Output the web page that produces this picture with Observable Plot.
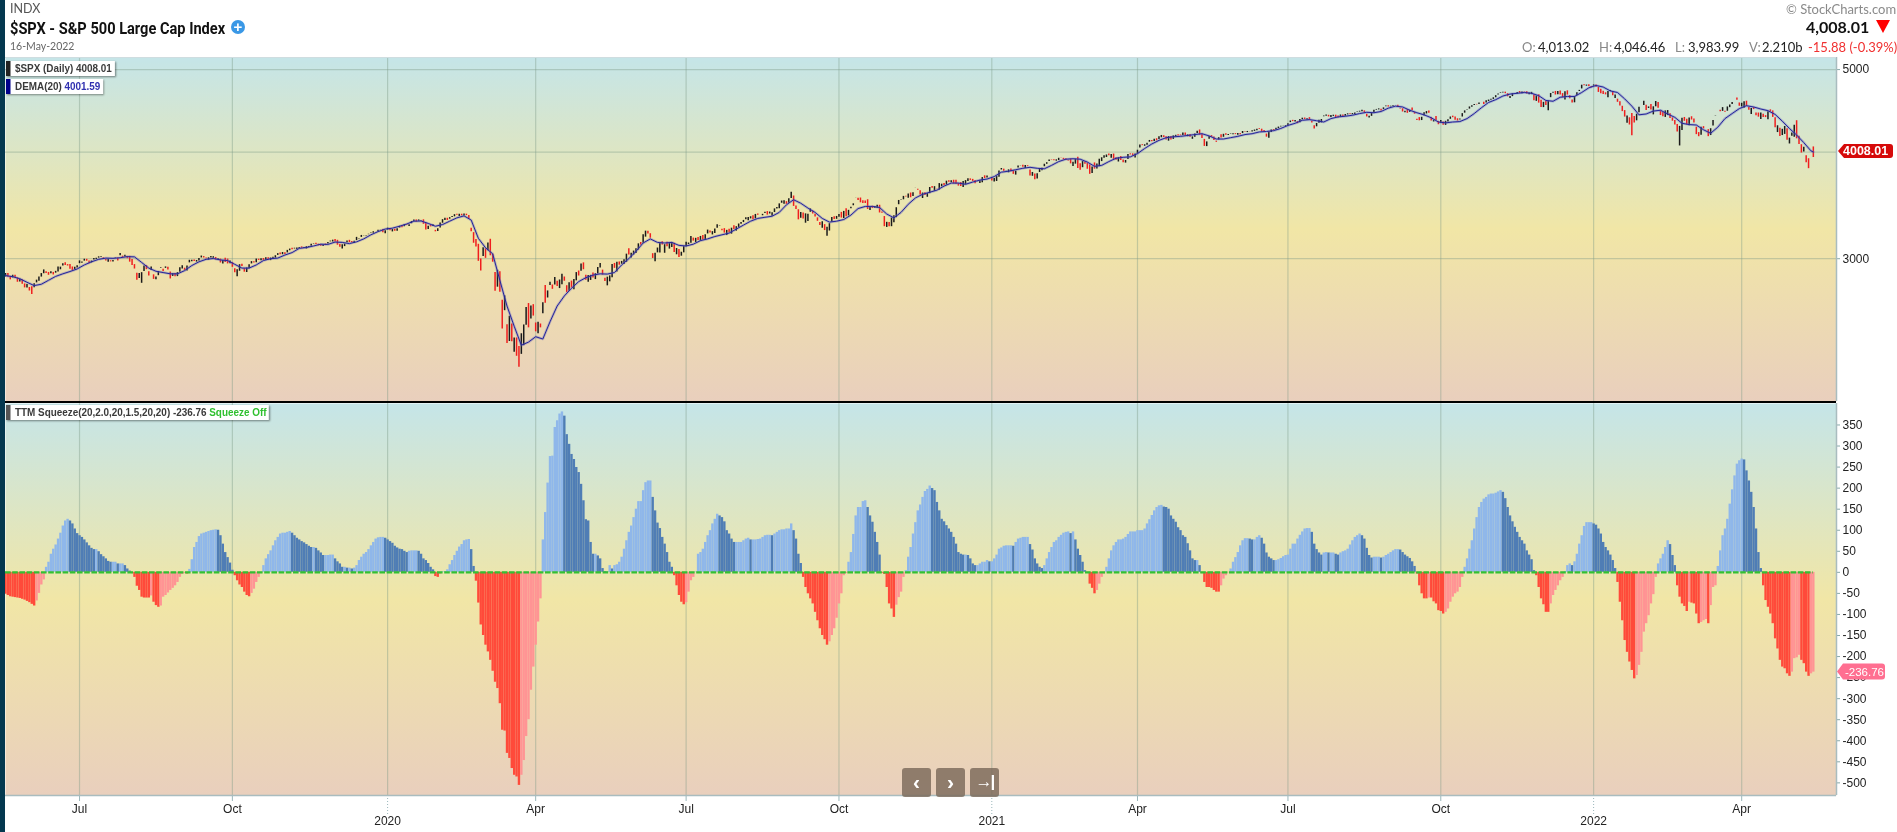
<!DOCTYPE html>
<html><head><meta charset="utf-8">
<script src="https://cdn.jsdelivr.net/npm/d3@7"></script>
<script src="https://cdn.jsdelivr.net/npm/@observablehq/plot@0.6"></script>
<style>
html,body{margin:0;padding:0;background:#fff;width:1897px;height:832px;overflow:hidden}
#page{position:relative;width:1897px;height:832px;font-family:Lato,sans-serif;filter:blur(.35px)}
#page>svg,#page>figure,.plot{position:absolute;left:0;margin:0}
.t{position:absolute;white-space:nowrap;line-height:1}
.chip{position:absolute;background:#fff;box-shadow:1px 1px 2px rgba(0,0,0,.45);font:bold 11px "Liberation Sans",sans-serif;color:#3a3a3a;white-space:nowrap;line-height:15px;height:15px;padding:0 3px 0 10px;box-sizing:content-box;transform:scaleX(.9);transform-origin:left}
.chip i{position:absolute;left:0;top:0;width:5px;height:15px}
.btn{position:absolute;top:768px;width:29px;height:29px;border-radius:3px;background:rgba(120,103,88,.8);color:#fff;font:bold 21px/27px "Liberation Sans",sans-serif;text-align:center}
</style></head><body><div id="page"></div>
<script>
// ---- S&P 500 daily closes, one row per month (May 2019 .. May 2022)
const closes=[
2876,2860,2840,2865,2856,2823,2826,2802,2783,2788,2752,
2744,2803,2826,2843,2873,2886,2885,2879,2891,2887,2889,2917,2926,2954,2950,2945,2917,2913,2924,2942,
2964,2973,2996,2990,2976,2980,2993,3000,3014,3014,3004,2984,2995,2977,2985,3006,3004,3026,3020,3026,3013,2980,
2954,2932,2845,2882,2884,2938,2919,2883,2926,2841,2848,2889,2924,2900,2924,2922,2847,2878,2869,2887,2924,2926,
2906,2938,2977,2979,2978,2979,3001,3010,3007,2998,3006,3007,3007,2992,2992,2967,2984,2977,2962,2977,
2940,2888,2910,2952,2938,2893,2919,2938,2970,2966,2996,2990,2998,2986,3007,2996,3004,3010,3023,3040,3037,3047,3038,
3067,3078,3075,3085,3085,3093,3087,3091,3094,3097,3120,3122,3120,3108,3104,3111,3110,3134,3141,3154,3141,
3114,3094,3113,3118,3146,3136,3133,3142,3169,3169,3192,3192,3192,3205,3221,3224,3224,3240,3240,3222,3231,
3258,3235,3246,3237,3253,3275,3265,3289,3283,3289,3317,3330,3321,3321,3326,3296,3244,3276,3273,3284,3226,
3248,3298,3334,3345,3328,3352,3358,3379,3374,3380,3370,3386,3373,3338,3226,3128,3116,2979,2954,
3090,3003,3130,3024,2972,2747,2882,2741,2481,2711,2386,2529,2398,2409,2305,2237,2447,2476,2630,2541,2627,2585,
2470,2527,2489,2664,2660,2750,2790,2762,2846,2783,2800,2875,2823,2737,2799,2798,2837,2878,2863,2940,2912,
2830,2842,2868,2848,2881,2930,2930,2870,2820,2853,2864,2954,2923,2972,2948,2955,2992,3036,3030,3044,
3056,3081,3123,3112,3194,3232,3207,3190,3002,3041,3067,3125,3114,3116,3098,3118,3132,3050,3084,3010,3053,3100,
3116,3130,3180,3146,3170,3152,3185,3155,3198,3227,3215,3225,3251,3258,3277,3236,3215,3239,3218,3258,3246,3271,
3295,3306,3327,3349,3351,3360,3333,3380,3373,3373,3382,3390,3375,3385,3397,3431,3444,3479,3485,3508,3500,
3527,3581,3455,3427,3332,3399,3339,3341,3383,3401,3385,3357,3319,3282,3316,3237,3246,3298,3351,3335,3363,
3381,3348,3409,3361,3419,3447,3477,3534,3512,3489,3484,3483,3427,3443,3435,3453,3465,3401,3391,3271,3310,3270,
3310,3370,3443,3510,3510,3550,3545,3572,3537,3585,3627,3610,3568,3582,3558,3578,3635,3630,3638,3622,
3662,3669,3666,3699,3692,3702,3672,3669,3663,3647,3695,3702,3722,3709,3695,3687,3691,3703,3735,3727,3732,3756,
3701,3727,3748,3803,3825,3799,3801,3810,3795,3768,3799,3852,3853,3841,3855,3849,3751,3787,3714,
3774,3826,3830,3872,3887,3915,3911,3909,3917,3935,3933,3932,3914,3906,3876,3881,3925,3829,3811,
3901,3871,3820,3768,3842,3821,3875,3899,3939,3943,3969,3963,3974,3915,3913,3941,3911,3889,3910,3975,3971,3959,3973,
4020,4078,4074,4080,4097,4129,4128,4142,4125,4171,4185,4163,4135,4173,4135,4180,4187,4186,4183,4211,4181,
4192,4165,4168,4202,4233,4189,4152,4063,4113,4174,4164,4128,4116,4160,4156,4197,4188,4196,4200,4204,
4202,4208,4192,4230,4227,4228,4220,4239,4247,4256,4255,4224,4222,4166,4224,4246,4242,4266,4281,4291,4291,4297,
4320,4352,4344,4358,4320,4370,4385,4369,4374,4360,4327,4258,4323,4359,4368,4412,4422,4401,4401,4419,4395,
4387,4423,4403,4429,4437,4433,4436,4443,4460,4468,4480,4449,4400,4406,4442,4480,4486,4497,4470,4509,4529,4523,
4524,4537,4535,4520,4494,4459,4469,4443,4480,4474,4433,4358,4354,4396,4449,4455,4443,4353,4360,4359,4308,
4357,4301,4346,4364,4399,4391,4361,4351,4364,4438,4471,4486,4520,4536,4550,4545,4567,4575,4552,4597,4605,
4614,4631,4660,4680,4697,4702,4685,4646,4649,4683,4682,4701,4689,4705,4698,4682,4691,4702,4595,4656,4567,
4513,4577,4538,4592,4687,4701,4668,4712,4669,4634,4710,4669,4621,4568,4649,4697,4726,4791,4786,4793,4778,4766,
4797,4793,4701,4696,4677,4670,4713,4726,4659,4663,4577,4533,4483,4398,4410,4357,4350,4327,4432,4516,
4546,4589,4477,4501,4484,4522,4587,4504,4419,4401,4472,4475,4380,4349,4305,4225,4289,4385,4374,
4306,4387,4363,4329,4201,4171,4278,4260,4204,4173,4262,4358,4412,4463,4462,4512,4456,4520,4544,4576,4632,4602,4530,
4546,4583,4526,4481,4500,4488,4413,4397,4447,4393,4392,4463,4459,4394,4272,4296,4175,4184,4288,4132,
4155,4175,4301,4147,4124,3991,4001,3935,3930,4024,4008];
// ---- how far each bar's high stands above its close
const highOver=[
5,17,15,3,10,20,9,25,15,8,18,
28,0,4,9,7,19,8,9,4,3,8,13,5,4,14,6,28,16,6,1,
14,0,0,4,4,1,6,3,1,3,3,9,1,5,1,2,0,12,1,1,4,30,
30,16,30,1,4,3,20,10,6,24,5,7,3,12,8,7,36,2,10,2,3,14,
14,2,8,6,9,5,1,9,8,6,1,8,7,14,6,23,1,20,27,4,
23,24,1,0,14,21,5,10,5,7,1,5,2,12,1,9,1,2,1,1,7,3,8,
1,1,8,1,2,0,8,1,4,3,0,1,6,9,10,0,9,1,4,0,14,
30,18,1,2,0,13,8,2,7,0,2,1,2,0,0,2,0,0,0,19,3,
0,15,1,9,0,0,10,0,5,0,0,0,8,8,1,28,46,0,8,3,10,
3,4,0,1,14,0,3,0,7,2,10,0,8,25,24,70,34,108,34,
0,60,0,106,50,110,20,120,155,2,95,30,90,10,90,100,2,25,0,90,10,50,
40,0,20,0,100,0,20,25,4,30,25,1,25,40,10,20,0,9,30,14,42,
30,20,0,30,0,0,24,30,20,1,0,0,30,0,20,18,0,1,40,0,
5,0,0,17,5,0,18,15,30,3,16,3,20,0,30,8,1,60,0,50,0,0,
15,0,5,20,0,20,1,30,2,11,14,2,0,23,3,10,30,0,24,0,25,0,
0,1,0,1,1,0,28,1,10,1,0,9,25,14,0,1,0,0,16,0,0,
0,6,76,25,71,0,43,35,0,24,21,20,24,20,0,40,16,0,2,19,0,
0,40,0,55,0,0,2,1,15,35,18,17,70,3,17,1,0,50,9,70,0,30,
30,0,0,1,5,0,5,0,35,0,1,7,29,0,20,0,1,12,5,1,
10,0,8,0,8,0,28,30,10,30,1,2,1,10,17,15,1,1,0,20,15,0,
25,0,1,0,2,17,3,3,22,27,1,1,2,16,3,6,47,0,45,
0,1,0,0,1,1,4,8,1,0,1,2,13,7,39,9,0,90,50,
0,19,50,75,1,50,0,20,1,14,1,14,0,50,21,0,32,22,1,0,9,18,5,
1,0,6,1,0,0,1,0,18,0,0,14,28,0,30,0,0,6,6,1,25,
0,24,1,0,1,45,35,60,0,0,15,30,4,0,28,1,12,1,4,1,
3,0,11,0,3,2,2,0,0,0,6,25,15,27,0,0,8,0,0,0,2,0,
0,0,12,0,20,0,0,14,3,24,16,30,0,1,1,0,0,14,13,1,20,
19,0,15,0,0,6,3,2,0,0,0,18,24,1,0,0,3,0,18,0,1,8,
4,0,1,16,8,30,0,35,0,26,17,12,29,0,0,7,22,30,0,36,30,
0,30,2,1,0,14,30,21,8,1,1,1,0,0,0,5,1,0,19,0,0,
0,2,0,0,1,0,15,30,0,1,2,0,18,0,6,20,1,0,60,0,80,
70,0,40,0,0,2,35,1,38,40,0,40,30,30,0,0,1,2,10,2,16,8,
0,3,50,35,30,20,0,0,40,5,30,40,35,60,1,25,70,60,0,0,
0,0,50,15,50,0,0,55,40,40,0,1,45,30,40,65,0,0,15,
50,0,30,35,60,36,0,20,0,60,0,0,2,0,15,0,10,0,0,0,0,22,30,
15,0,50,24,0,20,25,38,0,30,18,0,20,60,90,0,70,55,0,100,
0,30,0,160,40,70,40,20,0,0,38];
// ---- how far each bar's low stands below its close
const lowUnder=[
16,5,5,13,7,6,7,2,8,12,2,
16,22,12,15,14,4,2,8,8,12,3,17,11,10,4,3,1,6,10,13,
3,8,12,8,12,11,3,5,7,2,7,2,18,2,9,1,17,1,9,9,10,6,
7,11,11,30,59,31,5,15,16,3,11,18,1,1,1,9,5,14,9,22,25,6,
0,27,8,2,0,5,15,3,1,1,13,1,3,1,1,1,21,6,3,14,
7,0,41,40,1,0,22,14,9,1,22,3,11,1,15,3,15,12,14,10,3,11,3,
15,10,1,4,8,7,1,5,11,3,14,2,2,1,1,8,1,10,1,12,2,
2,0,25,14,11,2,0,13,14,3,11,1,1,3,4,8,0,11,1,3,17,
13,0,16,4,17,12,2,14,0,13,15,9,6,1,3,3,2,22,3,8,0,
15,30,25,14,1,11,3,15,1,14,1,15,2,0,0,0,15,0,40,
55,0,50,0,0,0,80,0,0,80,0,100,0,60,0,0,100,80,95,40,60,12,
6,60,0,60,0,40,0,0,40,0,25,60,0,0,40,20,60,40,0,30,0,
0,20,30,0,35,40,4,0,0,50,35,80,0,60,0,0,30,50,0,30,
20,30,40,0,50,40,0,15,0,50,15,60,0,55,0,30,30,0,40,0,25,40,
14,10,40,0,28,0,30,0,30,15,0,20,30,0,0,0,0,35,0,40,0,30,
25,10,15,12,20,15,0,30,0,0,10,0,0,0,25,25,10,35,0,25,20,
33,40,0,0,0,40,0,30,50,0,0,0,0,0,45,0,45,50,30,0,20,
20,0,50,0,40,10,12,0,0,0,1,0,0,20,0,11,20,5,0,0,35,0,
30,50,70,30,0,25,0,30,0,28,0,0,3,40,0,28,45,0,30,0,
40,20,10,30,2,14,0,0,10,0,45,30,20,2,0,10,0,20,40,1,0,0,
0,28,40,50,10,0,0,20,0,0,30,15,0,0,20,1,0,30,0,
40,30,20,20,12,10,0,0,10,18,0,10,0,0,0,24,40,0,0,
50,0,0,0,50,0,40,40,30,5,20,0,30,0,0,35,0,0,20,40,0,0,28,
30,25,2,12,17,15,10,20,0,25,20,0,0,40,0,30,12,5,2,20,0,
16,0,20,28,20,0,0,0,40,25,0,0,6,20,0,25,0,8,0,9,
6,15,0,18,1,8,0,12,12,14,1,0,0,0,55,22,3,14,14,6,1,8,
18,15,0,14,0,30,15,0,7,0,0,0,30,25,30,8,10,1,6,10,2,
0,20,1,17,10,2,8,10,6,8,13,2,0,14,27,25,4,10,0,15,6,3,
3,7,1,4,0,0,15,0,20,0,0,0,0,30,30,15,0,0,15,0,0,
25,0,35,18,21,0,0,0,0,30,20,5,20,16,9,0,12,0,1,22,14,
8,14,20,10,5,6,0,0,19,27,0,17,0,15,0,1,15,22,0,52,0,
0,50,0,90,40,8,0,30,0,0,80,1,0,0,60,30,10,35,0,10,0,5,
13,20,0,10,1,0,60,10,0,30,0,0,15,0,65,40,130,0,60,50,
0,40,1,0,0,75,50,0,2,0,60,45,0,0,0,0,170,110,20,
0,70,0,0,5,0,70,0,0,1,60,50,1,0,1,35,0,40,25,20,0,0,1,
20,60,0,0,55,0,0,0,60,0,0,75,0,0,0,60,2,0,70,0,
50,0,105,0,30,0,0,36,80,0,50];
// ---- DEMA(20), read every third trading day (plus the last day)
const demaEvery3=[
2866,2858,2842,2815,2790,2800,2830,2860,2880,2898,
2918,2950,2975,2995,3005,3003,3008,3017,3015,2970,
2925,2900,2890,2880,2880,2905,2945,2975,2995,3002,
2990,2985,2955,2925,2925,2950,2985,3000,3005,3030,
3050,3085,3092,3105,3120,3118,3138,3135,3125,3140,
3165,3200,3228,3250,3258,3275,3295,3320,3322,3300,
3275,3290,3320,3350,3368,3330,3170,3090,3040,2830,
2640,2500,2375,2395,2430,2415,2530,2640,2713,2770,
2820,2850,2870,2880,2878,2890,2950,3000,3060,3130,
3165,3135,3130,3135,3110,3105,3120,3150,3165,3185,
3200,3215,3250,3285,3320,3345,3355,3365,3400,3470,
3518,3485,3440,3400,3345,3312,3320,3335,3375,3435,
3455,3455,3445,3385,3350,3400,3475,3535,3570,3590,
3610,3650,3680,3680,3668,3690,3710,3720,3745,3790,
3800,3815,3830,3840,3830,3825,3860,3900,3925,3930,
3925,3895,3850,3860,3900,3935,3945,3950,3985,4040,
4090,4130,4160,4170,4175,4185,4195,4205,4180,4145,
4145,4160,4175,4195,4205,4225,4230,4240,4265,4300,
4325,4360,4368,4355,4340,4380,4400,4408,4420,4440,
4455,4450,4465,4505,4530,4520,4480,4450,4425,4390,
4340,4330,4340,4345,4380,4440,4510,4575,4610,4655,
4680,4690,4700,4690,4660,4600,4590,4640,4650,4650,
4700,4760,4790,4770,4720,4700,4620,4530,4425,4435,
4470,4480,4435,4395,4325,4310,4305,4250,4210,4280,
4380,4440,4500,4535,4520,4495,4475,4430,4350,4265,
4190,4105,4015,4002];
// ---- TTM Squeeze histogram, one value per trading day
const squeeze=[
-52,-55,-58,-59,-60,-61,-62,-64,-66,-69,-72,-76,-80,-68,-50,-30,-18,
12,24,43,55,65,79,93,110,122,126,122,115,103,92,87,83,77,70,63,57,54,54,49,42,37,32,26,24,24,24,20,20,20,16,8,3,
-3,-12,-33,-43,-59,-61,-61,-61,-56,-71,-79,-83,-80,-59,-55,-49,-43,-38,-32,-24,-12,-5,-3,-4,
7,30,59,71,85,91,93,95,97,99,100,101,100,87,67,47,35,22,5,
-8,-20,-30,-36,-47,-55,-58,-50,-40,-24,-12,-3,
16,32,42,51,63,75,83,91,93,93,95,97,93,87,81,77,73,70,66,62,59,59,57,51,46,40,40,40,41,41,32,25,20,12,12,10,10,8,10,16,28,36,43,47,54,63,71,79,82,83,83,81,77,73,69,62,58,55,54,50,47,50,51,51,51,50,43,32,28,21,12,6,
-10,-12,-5,
1,2,6,18,28,40,50,60,66,75,77,78,54,14,
-21,-73,-125,-150,-173,-189,-209,-235,-261,-276,-312,-375,-377,-430,-442,-466,-482,-486,-506,-482,-447,-390,-350,-280,-225,-173,-118,-63,
77,142,212,275,276,344,360,376,381,371,327,304,280,268,249,237,209,170,125,122,71,43,43,39,
32,9,2,1,16,8,16,18,24,36,55,75,95,110,130,150,168,168,194,213,217,217,178,146,117,104,83,67,47,24,12,
-8,-32,-55,-71,-77,-72,-47,-20,-12,
1,43,47,55,71,87,99,115,126,138,134,130,120,99,91,79,71,71,71,71,75,79,81,77,77,77,78,79,83,87,88,88,87,91,95,99,101,101,103,103,115,99,79,43,21,
-12,-36,-51,-63,-75,-95,-115,-134,-150,-160,-173,-165,-150,-134,-109,-75,-51,-8,-3,
24,47,90,134,154,154,168,170,154,134,119,95,71,41,
-2,-5,-36,-75,-87,-107,-78,-60,-47,-12,
4,36,59,91,118,146,160,178,192,197,205,199,194,166,146,126,120,111,103,95,83,67,47,43,41,41,40,32,20,16,16,20,24,24,28,25,25,32,41,55,58,62,63,63,63,62,71,79,81,83,83,83,66,53,32,20,12,9,16,32,47,59,71,75,83,88,93,95,96,92,96,77,55,40,24,4,
-2,-28,-38,-51,-43,-28,-12,-4,
12,32,51,63,71,77,77,79,83,90,96,96,96,99,99,99,103,115,125,135,146,154,158,159,155,154,150,134,126,119,106,99,87,83,68,51,32,28,28,16,
-3,-24,-36,-36,-38,-43,-47,-47,-32,-16,-8,-1,
8,24,35,47,63,75,80,80,79,77,77,83,87,81,67,46,36,32,28,28,30,33,37,40,41,55,67,67,79,88,96,103,104,104,95,67,54,46,41,46,47,46,46,46,43,41,46,49,51,55,65,75,83,87,91,87,79,57,40,34,36,36,36,34,36,40,43,47,51,54,54,53,47,41,37,33,25,14,
-4,-32,-51,-63,-63,-61,-61,-70,-75,-91,-93,-99,-95,-87,-71,-59,-51,-47,-36,-12,
12,32,55,75,103,130,154,166,174,178,184,186,186,188,191,194,190,175,154,134,120,107,95,83,75,67,51,41,30,4,
-8,-36,-63,-77,-95,-95,-75,-55,-43,-32,-20,-12,
2,16,20,16,25,43,67,87,109,118,118,118,115,112,103,91,71,59,51,41,28,9,
-24,-71,-115,-162,-190,-213,-233,-253,-245,-221,-190,-142,-122,-103,-75,-53,-12,
20,32,43,59,75,66,40,16,
-32,-59,-75,-81,-93,-71,-73,-75,-99,-122,-119,-115,-112,-122,-79,-36,-32,
14,51,87,103,126,162,196,229,257,265,269,267,241,217,190,154,103,47,9,
-32,-67,-83,-99,-122,-158,-182,-209,-225,-229,-241,-247,-237,-205,-203,-197,-209,-217,-237,-247,-241,-237];
// ---- time axis: positions count trading days
const monthTicks=[31,95,222,285,349,474,537,601,727];
const monthNames=["Jul","Oct","Apr","Jul","Oct","Apr","Jul","Oct","Apr"];
const yearTicks=[160,413,665];
const yearNames=["2020","2021","2022"];
const priceTicks=[5000,4000,3000];
const priceLabels=[5000,3000];
const squeezeTicks=[350,300,250,200,150,100,50,0,-50,-100,-150,-200,-250,-300,-350,-400,-450,-500];
const lastClose=4008.01, lastSqueeze=-236.76;

const bars=closes.map((c,i)=>({i,close:c,high:c+highOver[i]*1.3,low:c-lowUnder[i]*1.3,dir:i&&c<closes[i-1]?"down":"up"}));
const dema=demaEvery3.map((v,k)=>({i:Math.min(k*3,757),v}));
const hist=squeeze.map((v,i)=>({i,v,kind:v>=0?(i&&v<squeeze[i-1]?"posFall":"posRise"):(i&&v>squeeze[i-1]?"negRise":"negFall")}));

const W=1897, ML=5, MR=61, xDomain=[0,766.7];
const gradStops=[[0,"#c5e5e8"],[.5,"#f1e6a6"],[1,"#e9cfbd"]];
const defs=id=>()=>{const d=d3.create("svg:defs");d.append("linearGradient").attr("id",id).attr("x1",0).attr("x2",0).attr("y1",0).attr("y2",1)
  .selectAll("stop").data(gradStops).join("stop").attr("offset",s=>s[0]).attr("stop-color",s=>s[1]);return d.node();};
const gridV=Plot.ruleX([...monthTicks,...yearTicks],{stroke:"#7d9a88",strokeOpacity:.4,strokeWidth:1.2});
const tag=(value,text,fill,x0,w,h,fw,tx,fs)=>(_,s)=>{
  const y=s.y(value),g=d3.create("svg:g");
  g.append("path").attr("fill",fill).attr("d",`M${x0},${y} l6,${-h/2} h${w-9} q3,0 3,3 v${h-6} q0,3 -3,3 h${-(w-9)} z`);
  g.append("text").attr("x",x0+tx).attr("y",y).attr("dy","0.36em").attr("text-anchor","start").attr("fill","#fff").attr("font-weight",fw).attr("font-size",fs).attr("font-family","Liberation Sans").text(text);
  return g.node();};

const topPlot=Plot.plot({width:W,height:344,marginLeft:ML,marginRight:MR,marginTop:0,marginBottom:0,
  style:{fontFamily:"Liberation Sans",fontSize:"12px",background:"transparent",overflow:"visible"},
  x:{domain:xDomain,axis:null},
  y:{type:"log",domain:[2040,5166]},
  color:{domain:["up","down"],range:["#1a1a1a","#f01e1e"]},
  marks:[defs("gTop"),Plot.frame({fill:"url(#gTop)",stroke:null}),gridV,
    Plot.ruleY(priceTicks,{stroke:"#7d9a88",strokeOpacity:.4,strokeWidth:1.2}),
    Plot.ruleX(bars,{x:"i",y1:"low",y2:"high",stroke:"dir",strokeWidth:1.5}),
    Plot.line(dema,{x:"i",y:"v",stroke:"#6a6ac0",strokeOpacity:.4,strokeWidth:2.6}),
    Plot.line(dema,{x:"i",y:"v",stroke:"#23239a",strokeWidth:1}),
    Plot.axisY(priceLabels,{anchor:"right",tickSize:3,tickPadding:3,tickFormat:d=>String(d),stroke:"#8aa",fill:"#222",label:null}),
    Plot.ruleX([xDomain[1]],{stroke:"#a9bcbf",strokeWidth:1.5}),
    tag(lastClose,"4008.01","#d60a0a",1838,55,14,"bold",5,12.5)
  ]});
topPlot.style.top="57px";

const botPlot=Plot.plot({width:W,height:429,marginLeft:ML,marginRight:MR,marginTop:0,marginBottom:37,
  style:{fontFamily:"Liberation Sans",fontSize:"12px",background:"transparent",overflow:"visible"},
  x:{domain:xDomain},
  y:{domain:[-530,401]},
  color:{domain:["posRise","posFall","negFall","negRise"],range:["#8fb7ea","#4f7db5","#ff4a3a","#ff9494"]},
  marks:[defs("gBot"),Plot.frame({fill:"url(#gBot)",stroke:null}),gridV,
    Plot.ruleX(hist,{x:"i",y1:0,y2:"v",stroke:"kind",strokeWidth:2.4}),
    Plot.ruleY([0],{x1:0,x2:757,stroke:"#33c033",strokeWidth:2.2,strokeDasharray:"5.6 1.6"}),
    Plot.axisY(squeezeTicks,{anchor:"right",tickSize:3,tickPadding:3,tickFormat:d=>String(d),stroke:"#8aa",fill:"#222",label:null}),
    Plot.axisX(monthTicks,{anchor:"bottom",tickSize:6,tickPadding:3,tickFormat:d=>monthNames[monthTicks.indexOf(d)],stroke:"#9ab7bb",fill:"#222",label:null}),
    Plot.axisX(yearTicks,{anchor:"bottom",tickSize:20,tickPadding:1,strokeDasharray:"1 2",tickFormat:d=>yearNames[yearTicks.indexOf(d)],stroke:"#9ab7bb",fill:"#222",label:null}),
    Plot.ruleX([xDomain[1]],{stroke:"#a9bcbf",strokeWidth:1.5}),
    Plot.ruleY([-530],{stroke:"#a9bcbf",strokeWidth:1.5}),
    tag(lastSqueeze,"-236.76","#ff6f91",1837,48,16,"normal",8,11.5)
  ]});
botPlot.style.top="403px";

const page=document.getElementById("page");
page.append(topPlot,botPlot);
const html=(cls,left,topPx,css,txt)=>{const e=document.createElement("div");e.className=cls;e.style.left=left+"px";e.style.top=topPx+"px";e.style.cssText+=";"+css;e.innerHTML=txt;page.append(e);return e;};
// frame pieces
html("t",0,0,"width:5px;height:832px;background:#04384f","");
html("t",5,57,"width:1831px;height:1px;background:#cfdde0","");
html("t",5,401,"width:1831px;height:2px;background:#000","");
// header
html("t",10,19,"font:bold 16.5px Roboto,sans-serif;color:#111;transform:scaleX(.885);transform-origin:left","$SPX - S&amp;P 500 Large Cap Index");
html("t",10,3,"font-size:12.5px;color:#555","INDX");
html("t",231,20,"width:14px;height:14px;border-radius:50%;background:#3a98e6;color:#fff;font:bold 15px/14px 'Liberation Sans';text-align:center","+");
html("t",10,41,"font-size:10.5px;color:#666","16-May-2022");
html("t",1786,3,"font-size:13px;color:#8a8a8a","© StockCharts.com");
html("t",1806,19,"font-weight:bold;font-size:16px;color:#111","4,008.01");
html("t",1876,20,"width:0;height:0;border-left:7px solid transparent;border-right:7px solid transparent;border-top:13px solid #ff0000","");
[[1522,"O:",0],[1538,"4,013.02",1],[1599,"H:",0],[1614,"4,046.46",1],[1675,"L:",0],[1688,"3,983.99",1],[1749,"V:",0],[1762,"2.210b",1]]
 .forEach(([x,s,k])=>html("t",x,41,"font-size:13px;color:"+(k?"#222":"#888"),s));
html("t",1808,41,"font-size:13px;color:#f03030","-15.88 (-0.39%)");
// legend chips
html("chip",6,61,"","<i style='background:#222'></i>$SPX (Daily) 4008.01");
html("chip",6,79,"","<i style='background:#00008b'></i>DEMA(20) <span style='color:#3030b0'>4001.59</span>");
html("chip",6,405,"","<i style='background:#555'></i>TTM Squeeze(20,2.0,20,1.5,20,20) -236.76 <span style='color:#2fc02f'>Squeeze Off</span>");
// nav buttons
html("btn",902,768,"","‹");html("btn",936,768,"","›");html("btn",970,768,"font-size:17px;letter-spacing:-2px","→|");
</script></body></html>
